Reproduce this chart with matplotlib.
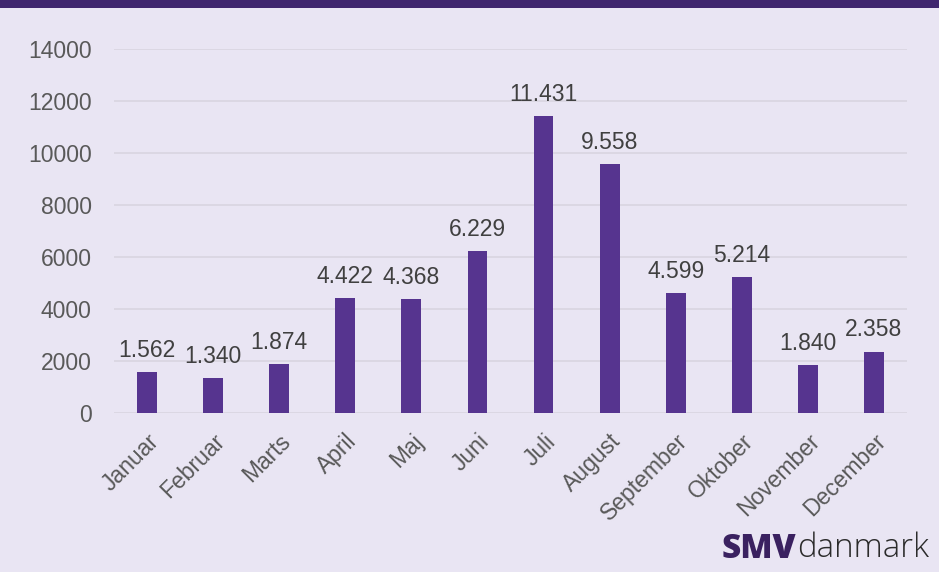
"""Monthly counts bar chart with SMVdanmark styling."""
import matplotlib

matplotlib.use("Agg")
import matplotlib.pyplot as plt

months = ["Januar", "Februar", "Marts", "April", "Maj", "Juni", "Juli",
          "August", "September", "Oktober", "November", "December"]
values = [1562, 1340, 1874, 4422, 4368, 6229, 11431, 9558, 4599, 5214, 1840, 2358]
yticks = [0, 2000, 4000, 6000, 8000, 10000, 12000, 14000]

BG = "#e9e5f3"
BAR = "#56348f"
TOP = "#3f266e"

plt.rcParams["font.family"] = ["Liberation Sans", "DejaVu Sans"]

fig = plt.figure(figsize=(9.39, 5.72), dpi=100, facecolor=BG)
ax = fig.add_axes([114 / 939, 1 - 413 / 572, (907 - 114) / 939, (413 - 49) / 572])
ax.set_facecolor(BG)

x = list(range(len(months)))
ax.bar(x, values, width=0.3, color=BAR, zorder=3)
for xi, v in zip(x, values):
    ax.annotate(f"{v:,}".replace(",", "."), (xi, v), xytext=(0, 11),
                textcoords="offset points", ha="center", va="baseline",
                fontsize=16.5, color="#404040")

ax.set_xlim(-0.5, len(months) - 0.5)
ax.set_ylim(0, 14000)
ax.set_yticks(yticks)
ax.set_yticklabels([str(t) for t in yticks], fontsize=16.5, color="#595959")
ax.set_xticks(x)
ax.set_xticklabels(months, rotation=45, ha="right", rotation_mode="anchor",
                   fontsize=16.5, color="#595959")
ax.tick_params(axis="y", length=0, pad=16)
ax.tick_params(axis="x", length=0, pad=12)
ax.grid(axis="y", color="#d9d5e0", linewidth=1.2, zorder=0)
for s in ax.spines.values():
    s.set_visible(False)

# top band
fig.patches.append(plt.Rectangle((0, 1 - 8 / 572), 1, 8 / 572, transform=fig.transFigure,
                                 facecolor=TOP, edgecolor="none"))

# logo
fig.text(796 / 939, 1 - 549 / 572, "SMV", ha="right", va="center", fontsize=24,
         fontweight="heavy", color="#3a2160", family=["Open Sans", "DejaVu Sans"])
fig.text(797 / 939, 1 - 548 / 572, "danmark", ha="left", va="center", fontsize=23.8,
         fontweight="light", color="#2b2b2b", family=["Open Sans", "DejaVu Sans"])

fig.savefig("out.png", dpi=100, facecolor=BG)
